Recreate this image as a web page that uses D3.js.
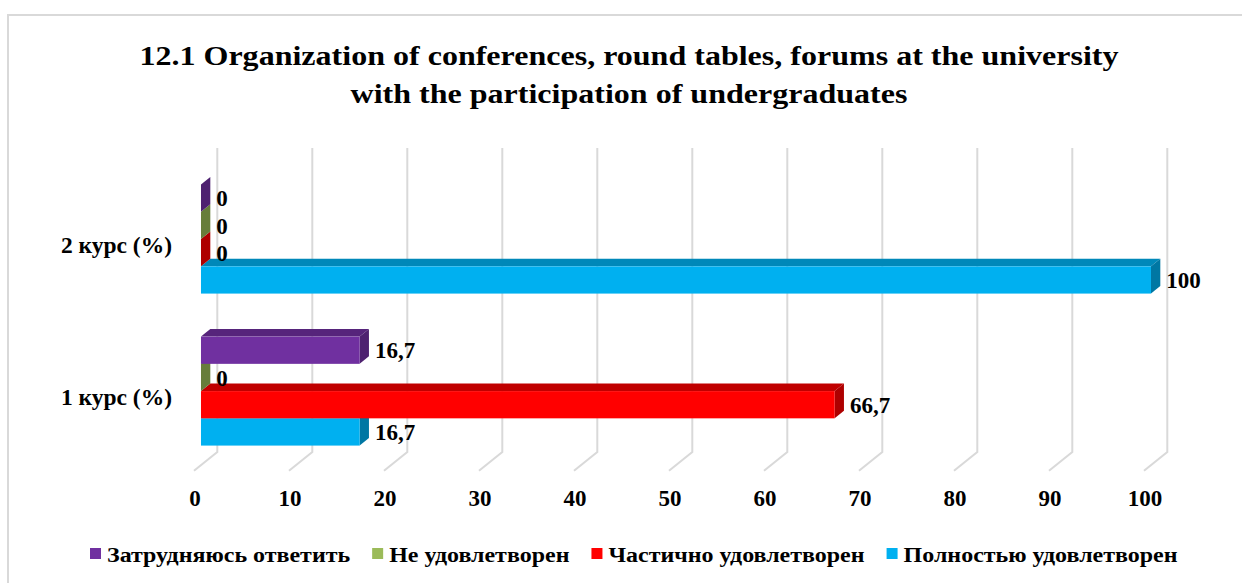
<!DOCTYPE html>
<html>
<head>
<meta charset="utf-8">
<script src="https://cdn.jsdelivr.net/npm/d3@7"></script>
<style>
  body { margin: 0; background: #fff; }
</style>
</head>
<body>
<svg id="chart" width="1242" height="583"></svg>
<script>
// data, top to bottom as drawn
const categories = ['2 курс (%)', '1 курс (%)'];
const series = ['Затрудняюсь ответить', 'Не удовлетворен', 'Частично удовлетворен', 'Полностью удовлетворен'];
const values = {
  '2 курс (%)': [0, 0, 0, 100],
  '1 курс (%)': [16.7, 0, 66.7, 16.7]
};
const ticks = [0, 10, 20, 30, 40, 50, 60, 70, 80, 90, 100];
const titleLines = [
  '12.1 Organization of conferences, round tables, forums at the university',
  'with the participation of undergraduates'
];

// front / top / end face colours per series
const colors = [
  { front: '#7030A0', top: '#56247B', end: '#4E2170' },
  { front: '#9BBB59', top: '#7A9445', end: '#677D3A' },
  { front: '#FF0000', top: '#C00000', end: '#AE0000' },
  { front: '#00B0F0', top: '#0088B9', end: '#0077A3' }
];

const FONT = "'Liberation Serif', 'Times New Roman', Times, serif";

const svg = d3.select('#chart')
  .attr('font-family', FONT)
  .attr('font-weight', 'bold');

// outer border
svg.append('rect')
  .attr('x', 8).attr('y', 15)
  .attr('width', 1250).attr('height', 580)
  .attr('fill', 'none')
  .attr('stroke', '#d9d9d9')
  .attr('stroke-width', 2);

// back wall coords + depth vector (back -> front)
const x = d3.scaleLinear().domain([0, 100]).range([217.3, 1167.3]);
const wallTop = 148;
const wallBottom = 452;
const depth = { dx: -23.3, dy: 18.7 };
const barFront = 0.7; // fraction of depth where bar front sits
const barBack = 0.3;

const y = d3.scaleBand().domain(categories).range([wallTop + 2, wallBottom + 2])
  .paddingInner(0.283).paddingOuter(0.1415);
const ySeries = d3.scaleBand().domain(series).range([0, y.bandwidth()]);

// gridlines: vertical on wall, then slanted on the floor
svg.append('g')
  .selectAll('path')
  .data(ticks)
  .join('path')
  .attr('d', (t) => `M${x(t)},${wallTop}V${wallBottom}l${depth.dx},${depth.dy}`)
  .attr('fill', 'none')
  .attr('stroke', '#d9d9d9')
  .attr('stroke-width', 2);

// tick labels along the front edge
svg.append('g')
  .selectAll('text')
  .data(ticks)
  .join('text')
  .attr('x', (t) => x(t) + depth.dx + 1)
  .attr('y', 506)
  .attr('text-anchor', 'middle')
  .attr('font-size', 23)
  .text((t) => t);

// category labels
svg.append('g')
  .selectAll('text')
  .data(categories)
  .join('text')
  .attr('x', 172)
  .attr('y', (c) => y(c) + y.bandwidth() / 2 + depth.dy)
  .attr('dy', '0.35em')
  .attr('text-anchor', 'end')
  .attr('font-size', 23.5)
  .text((c) => c);

// bars
const fdx = depth.dx * barFront;
const fdy = depth.dy * barFront;
const bdx = depth.dx * (barBack - barFront); // front -> back offset
const bdy = depth.dy * (barBack - barFront);

const bars = [];
categories.forEach((c) => {
  values[c].forEach((v, i) => bars.push({ cat: c, s: i, v }));
});
// draw lower bars first so upper bars cover their top faces
bars.sort((a, b) => b.s - a.s);

const barG = svg.append('g');
bars.forEach((d) => {
  const x0 = x(0) + fdx;
  const x1 = x(d.v) + fdx;
  const y0 = y(d.cat) + ySeries(series[d.s]) + fdy;
  const h = ySeries.bandwidth();
  const col = colors[d.s];
  const g = barG.append('g');
  if (d.v > 0) {
    g.append('path')
      .attr('d', `M${x0},${y0}L${x0 + bdx},${y0 + bdy}L${x1 + bdx},${y0 + bdy}L${x1},${y0}Z`)
      .attr('fill', col.top);
  }
  g.append('path')
    .attr('d', `M${x1},${y0}L${x1 + bdx},${y0 + bdy}L${x1 + bdx},${y0 + h + bdy}L${x1},${y0 + h}Z`)
    .attr('fill', col.end);
  if (d.v > 0) {
    g.append('rect')
      .attr('x', x0).attr('y', y0)
      .attr('width', x1 - x0).attr('height', h)
      .attr('fill', col.front);
  }
});

// value labels
svg.append('g')
  .selectAll('text')
  .data(bars)
  .join('text')
  .attr('x', (d) => x(d.v) + fdx + bdx + 6)
  .attr('y', (d) => y(d.cat) + ySeries(series[d.s]) + fdy + ySeries.bandwidth() / 2)
  .attr('dy', '0.35em')
  .attr('font-size', 23)
  .text((d) => String(d.v).replace('.', ','));

// title (drawn a little wide, like the original)
svg.append('g')
  .attr('transform', 'translate(629,0) scale(1.144,1)')
  .append('text')
  .attr('text-anchor', 'middle')
  .attr('font-size', 28)
  .selectAll('tspan')
  .data(titleLines)
  .join('tspan')
  .attr('x', 0)
  .attr('y', (d, i) => 65 + i * 38)
  .text((d) => d);

// legend
const legendStretch = 1.09;
const legend = svg.append('g');
let lx = 90;
series.forEach((s, i) => {
  legend.append('rect')
    .attr('x', lx).attr('y', 548)
    .attr('width', 11).attr('height', 11)
    .attr('fill', colors[i].front);
  const t = legend.append('text')
    .attr('transform', `translate(${lx + 17},562) scale(${legendStretch},1)`)
    .attr('font-size', 22)
    .text(s);
  lx += 17 + t.node().getComputedTextLength() * legendStretch + 22;
});
</script>
</body>
</html>
